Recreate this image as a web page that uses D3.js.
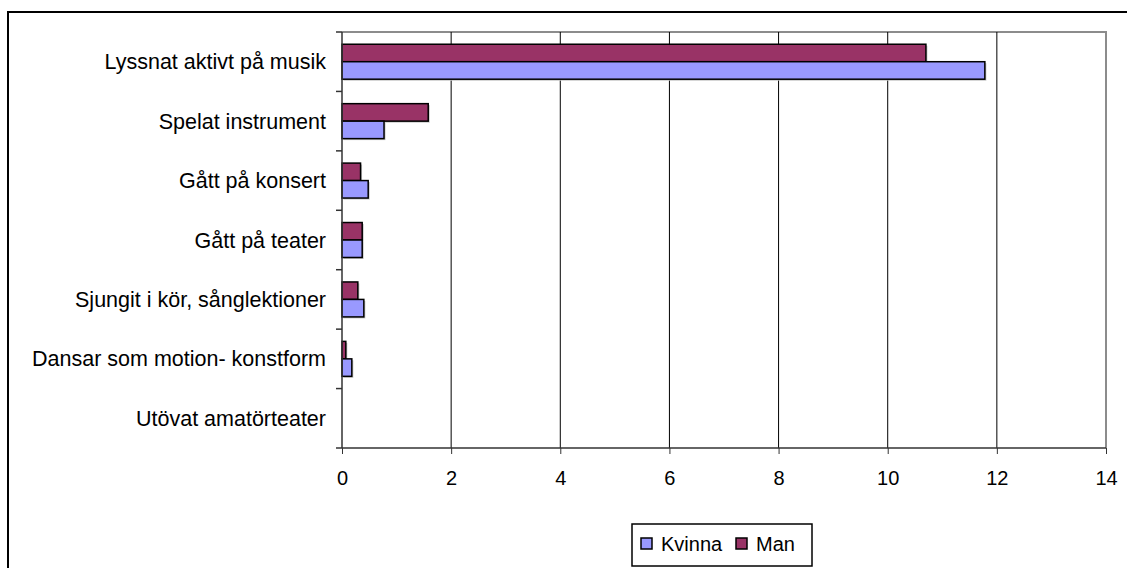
<!DOCTYPE html>
<html>
<head>
<meta charset="utf-8">
<script src="https://cdn.jsdelivr.net/npm/d3@7"></script>
<style>
  body { margin: 0; background: #fff; }
  svg { display: block; font-family: Arial, "Liberation Sans", sans-serif; }
</style>
</head>
<body>
<div id="chart"></div>
<script>
// Categories, top to bottom
const categories = [
  'Lyssnat aktivt på musik',
  'Spelat instrument',
  'Gått på konsert',
  'Gått på teater',
  'Sjungit i kör, sånglektioner',
  'Dansar som motion- konstform',
  'Utövat amatörteater'
];
// Series values (same order as categories)
const manValues = [10.7, 1.58, 0.34, 0.37, 0.29, 0.07, 0];
const kvinnaValues = [11.78, 0.77, 0.48, 0.37, 0.40, 0.18, 0];
const seriesNames = ['Kvinna', 'Man'];
const xTicks = [0, 2, 4, 6, 8, 10, 12, 14];

const colors = { Kvinna: '#9999ff', Man: '#993366' };

const W = 1127, H = 568;
const plot = { left: 342, top: 32, right: 1106, bottom: 448 };

const svg = d3.select('#chart').append('svg')
  .attr('width', W)
  .attr('height', H);

// Outer chart frame
svg.append('rect')
  .attr('x', 8).attr('y', 12)
  .attr('width', W + 10).attr('height', H + 10)
  .attr('fill', 'none')
  .attr('stroke', '#000')
  .attr('stroke-width', 2);

const x = d3.scaleLinear().domain([0, 14]).range([plot.left, plot.right]);
const y = d3.scaleBand().domain(categories).range([plot.top, plot.bottom]);
const inner = d3.scaleBand().domain(['Man', 'Kvinna'])
  .range([0, y.bandwidth()]).paddingInner(0).paddingOuter(0.7);

// Plot area frame (gray, top and right)
svg.append('path')
  .attr('d', `M${plot.left},${plot.top}H${plot.right}V${plot.bottom}`)
  .attr('fill', 'none')
  .attr('stroke', '#8c8c8c')
  .attr('stroke-width', 2);

// Vertical gridlines
svg.append('g')
  .selectAll('line')
  .data(xTicks.filter(d => d > 0 && d < 14))
  .join('line')
  .attr('x1', d => x(d)).attr('x2', d => x(d))
  .attr('y1', plot.top).attr('y2', plot.bottom)
  .attr('stroke', '#000')
  .attr('stroke-width', 1);

// Bars
const rows = categories.map((c, i) => ({ cat: c, Man: manValues[i], Kvinna: kvinnaValues[i] }));
const groups = svg.append('g')
  .selectAll('g')
  .data(rows)
  .join('g')
  .attr('transform', d => `translate(0,${y(d.cat)})`);

['Man', 'Kvinna'].forEach(s => {
  // soft shadow
  groups.filter(d => d[s] > 0).append('rect')
    .attr('x', x(0) + 1.5)
    .attr('y', inner(s) + 1.5)
    .attr('width', d => x(d[s]) - x(0))
    .attr('height', inner.bandwidth())
    .attr('fill', '#c4c4c4');
  groups.filter(d => d[s] > 0).append('rect')
    .attr('x', x(0))
    .attr('y', inner(s))
    .attr('width', d => x(d[s]) - x(0))
    .attr('height', inner.bandwidth())
    .attr('fill', colors[s])
    .attr('stroke', '#000')
    .attr('stroke-width', 1.5);
});

// X axis
const xAxis = svg.append('g')
  .attr('transform', `translate(0,${plot.bottom})`)
  .call(d3.axisBottom(x).tickValues(xTicks).tickSize(6).tickSizeOuter(0).tickPadding(17));
xAxis.select('.domain').attr('stroke', '#333').attr('stroke-width', 1.5)
  .attr('d', `M${plot.left - 6},0H${plot.right}`);
xAxis.selectAll('.tick line').attr('stroke', '#333').attr('y1', 0).attr('y2', 6);
xAxis.selectAll('.tick text')
  .style('font-size', '20px')
  .style('font-family', 'Arial, "Liberation Sans", sans-serif')
  .attr('fill', '#000');

// Y axis
svg.append('line')
  .attr('x1', plot.left).attr('x2', plot.left)
  .attr('y1', plot.top).attr('y2', plot.bottom)
  .attr('stroke', '#333').attr('stroke-width', 1.5);
svg.append('g')
  .selectAll('line')
  .data(categories)
  .join('line')
  .attr('x1', plot.left - 6).attr('x2', plot.left)
  .attr('y1', d => y(d)).attr('y2', d => y(d))
  .attr('stroke', '#333').attr('stroke-width', 1.5);
svg.append('g')
  .selectAll('text')
  .data(categories)
  .join('text')
  .attr('x', plot.left - 16)
  .attr('y', d => y(d) + y.bandwidth() / 2)
  .attr('dy', '0.35em')
  .attr('text-anchor', 'end')
  .style('font-size', '21.5px')
  .text(d => d);

// Legend
const legend = svg.append('g').attr('transform', 'translate(632,524)');
legend.append('rect')
  .attr('width', 180).attr('height', 42)
  .attr('fill', '#fff').attr('stroke', '#000').attr('stroke-width', 1.5);
const legendX = [9, 104];
seriesNames.forEach((s, i) => {
  legend.append('rect')
    .attr('x', legendX[i]).attr('y', 14)
    .attr('width', 11).attr('height', 11)
    .attr('fill', colors[s]).attr('stroke', '#000').attr('stroke-width', 1.5);
  legend.append('text')
    .attr('x', legendX[i] + 20).attr('y', 20)
    .attr('dy', '0.35em')
    .style('font-size', '20px')
    .text(s);
});
</script>
</body>
</html>
